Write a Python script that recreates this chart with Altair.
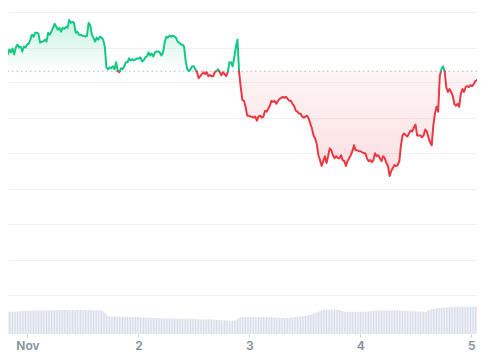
import altair as alt
import pandas as pd

# ---- data ----
start_time = "2023-10-31 19:23"
step = "21min"

price = [
    3.00, 2.95, 3.00, 2.97, 3.01, 2.95, 3.02, 3.05, 3.02, 3.03, 2.98, 3.03,
    3.02, 3.05, 3.06, 3.10, 3.15, 3.13, 3.17, 3.17, 3.16, 3.07, 3.08, 3.08,
    3.10, 3.08, 3.17, 3.15, 3.18, 3.22, 3.26, 3.23, 3.20, 3.22, 3.18, 3.22,
    3.21, 3.23, 3.22, 3.30, 3.27, 3.28, 3.27, 3.17, 3.18, 3.15, 3.15, 3.14,
    3.14, 3.13, 3.14, 3.27, 3.25, 3.15, 3.12, 3.08, 3.12, 3.10, 3.13, 3.12,
    3.10, 3.03, 2.82, 2.80, 2.82, 2.81, 2.83, 2.80, 2.87, 2.78, 2.77, 2.81,
    2.80, 2.83, 2.87, 2.87, 2.91, 2.89, 2.90, 2.89, 2.90, 2.91, 2.91, 2.92,
    2.88, 2.89, 2.92, 2.93, 2.97, 2.94, 2.96, 2.93, 2.97, 2.98, 2.98, 2.97,
    2.94, 2.97, 3.07, 3.13, 3.12, 3.14, 3.13, 3.14, 3.13, 3.12, 3.08, 3.07,
    3.05, 3.05, 3.03, 2.88, 2.80, 2.78, 2.80, 2.83, 2.83, 2.80, 2.77, 2.71,
    2.73, 2.75, 2.77, 2.75, 2.77, 2.73, 2.74, 2.73, 2.73, 2.77, 2.78, 2.80,
    2.77, 2.74, 2.77, 2.75, 2.73, 2.77, 2.87, 2.87, 2.83, 2.92, 3.03, 3.10,
    2.77, 2.62, 2.49, 2.48, 2.42, 2.33, 2.33, 2.32, 2.32, 2.31, 2.32, 2.28,
    2.32, 2.33, 2.31, 2.32, 2.38, 2.37, 2.40, 2.43, 2.48, 2.47, 2.48, 2.45,
    2.48, 2.50, 2.51, 2.52, 2.51, 2.52, 2.50, 2.48, 2.48, 2.45, 2.43, 2.38,
    2.37, 2.35, 2.35, 2.32, 2.31, 2.32, 2.33, 2.30, 2.25, 2.20, 2.13, 2.10,
    2.04, 1.93, 1.88, 1.82, 1.87, 1.92, 1.85, 1.92, 2.00, 1.98, 1.93, 1.90,
    1.92, 1.90, 1.90, 1.93, 1.88, 1.87, 1.82, 1.87, 1.90, 1.93, 1.97, 2.03,
    1.98, 1.98, 1.97, 1.97, 1.96, 1.95, 1.95, 1.90, 1.87, 1.88, 1.86, 1.88,
    1.95, 1.92, 1.93, 1.90, 1.87, 1.92, 1.90, 1.85, 1.82, 1.72, 1.77, 1.80,
    1.83, 1.82, 1.83, 1.87, 2.03, 2.13, 2.15, 2.13, 2.12, 2.15, 2.18, 2.17,
    2.21, 2.24, 2.13, 2.13, 2.13, 2.11, 2.13, 2.19, 2.17, 2.11, 2.06, 2.03,
    2.23, 2.35, 2.42, 2.37, 2.73, 2.80, 2.83, 2.78, 2.62, 2.57, 2.60, 2.57,
    2.53, 2.45, 2.43, 2.45, 2.42, 2.55, 2.60, 2.57, 2.62, 2.63, 2.62, 2.64,
    2.63, 2.65, 2.68, 2.69,
]

volume = [
    2.23, 2.25, 2.24, 2.26, 2.25, 2.27, 2.26, 2.28, 2.30, 2.31, 2.32, 2.33,
    2.34, 2.35, 2.35, 2.36, 2.35, 2.36, 2.37, 2.38, 2.38, 2.39, 2.38, 2.39,
    2.39, 2.40, 2.39, 2.40, 2.41, 2.40, 2.41, 2.40, 2.41, 2.42, 2.41, 2.42,
    2.42, 2.43, 2.42, 2.43, 2.44, 2.45, 2.44, 2.45, 2.44, 2.43, 2.44, 2.43,
    2.42, 2.43, 2.42, 2.41, 2.42, 2.41, 2.40, 2.41, 2.40, 2.39, 2.40, 2.38,
    2.30, 2.15, 1.95, 1.82, 1.78, 1.77, 1.76, 1.77, 1.76, 1.75, 1.76, 1.75,
    1.74, 1.75, 1.74, 1.73, 1.74, 1.73, 1.72, 1.73, 1.72, 1.71, 1.70, 1.69,
    1.67, 1.66, 1.67, 1.66, 1.65, 1.66, 1.65, 1.64, 1.63, 1.62, 1.61, 1.60,
    1.59, 1.58, 1.57, 1.58, 1.57, 1.58, 1.57, 1.56, 1.57, 1.56, 1.55, 1.56,
    1.55, 1.56, 1.55, 1.54, 1.55, 1.54, 1.53, 1.54, 1.53, 1.52, 1.51, 1.50,
    1.49, 1.48, 1.47, 1.48, 1.47, 1.46, 1.47, 1.46, 1.45, 1.44, 1.43, 1.42,
    1.41, 1.40, 1.39, 1.38, 1.37, 1.36, 1.35, 1.34, 1.35, 1.36, 1.40, 1.52,
    1.65, 1.70, 1.72, 1.71, 1.72, 1.71, 1.72, 1.71, 1.72, 1.71, 1.72, 1.71,
    1.72, 1.71, 1.70, 1.71, 1.70, 1.71, 1.70, 1.71, 1.70, 1.69, 1.68, 1.66,
    1.64, 1.63, 1.62, 1.63, 1.62, 1.63, 1.64, 1.65, 1.66, 1.68, 1.70, 1.72,
    1.74, 1.76, 1.78, 1.80, 1.82, 1.84, 1.86, 1.89, 1.93, 1.98, 2.05, 2.12,
    2.20, 2.28, 2.35, 2.40, 2.43, 2.45, 2.46, 2.47, 2.46, 2.47, 2.46, 2.47,
    2.46, 2.45, 2.44, 2.40, 2.34, 2.28, 2.26, 2.25, 2.24, 2.25, 2.24, 2.25,
    2.24, 2.25, 2.26, 2.25, 2.26, 2.25, 2.26, 2.27, 2.28, 2.30, 2.32, 2.35,
    2.37, 2.38, 2.39, 2.38, 2.39, 2.38, 2.37, 2.36, 2.35, 2.36, 2.38, 2.40,
    2.41, 2.40, 2.41, 2.40, 2.39, 2.38, 2.37, 2.36, 2.35, 2.34, 2.33, 2.32,
    2.31, 2.30, 2.29, 2.28, 2.27, 2.26, 2.25, 2.24, 2.30, 2.40, 2.45, 2.50,
    2.52, 2.55, 2.58, 2.60, 2.62, 2.64, 2.66, 2.68, 2.70, 2.71, 2.72, 2.73,
    2.74, 2.75, 2.75, 2.76, 2.75, 2.76, 2.75, 2.76, 2.75, 2.76, 2.75, 2.76,
    2.75, 2.76, 2.75, 2.74,
]

baseline = 2.78
grid_values = [3.38, 3.02, 2.67, 2.31, 1.95, 1.59, 1.23, 0.87, 0.51]
tick_days = [1, 2, 3, 4, 5]
month_label = "Nov"

GREEN = "#16c784"
RED = "#ea3943"

# ---- build tables ----
times = pd.date_range(start_time, periods=len(price), freq=step)

line_rows = []
area_rows = []


def side_of(p):
    return "up" if p >= baseline else "down"


seg = 0
cur = side_of(price[0])
for i, (t, p) in enumerate(zip(times, price)):
    s = side_of(p)
    if i > 0 and s != cur:
        p0 = price[i - 1]
        if p0 != baseline:
            frac = (baseline - p0) / (p - p0)
            tc = times[i - 1] + (times[i] - times[i - 1]) * frac
        else:
            tc = times[i - 1]
        line_rows.append({"t": tc, "p": baseline, "seg": seg, "side": cur})
        area_rows.append({"t": tc, "p": baseline})
        seg += 1
        cur = s
        line_rows.append({"t": tc, "p": baseline, "seg": seg, "side": cur})
    line_rows.append({"t": t, "p": p, "seg": seg, "side": cur})
    area_rows.append({"t": t, "p": p})

line_df = pd.DataFrame(line_rows)
area_df = pd.DataFrame(area_rows).sort_values("t")
area_df["up"] = area_df["p"].clip(lower=baseline)
area_df["down"] = area_df["p"].clip(upper=baseline)
area_df["base"] = baseline

vol_df = pd.DataFrame({"t": times, "v": volume})
base_df = pd.DataFrame({"p": [baseline]})

# ---- scales / axes ----
x_scale = alt.Scale(
    domain=[
        alt.DateTime(year=2023, month=10, date=31, hours=19, minutes=48),
        alt.DateTime(year=2023, month=11, date=5, hours=1, minutes=14),
    ],
    padding=0,
)
x_axis = alt.Axis(
    values=[alt.DateTime(year=2023, month=11, date=d) for d in tick_days],
    labelExpr=f"date(datum.value) == 1 ? '{month_label}' : '' + date(datum.value)",
    labelFlush=False,
    labelOverlap=False,
    grid=False,
    domain=False,
    ticks=True,
    tickSize=3,
    tickColor="#c9ced6",
    labelColor="#858e9e",
    labelFont="Inter",
    labelFontSize=12,
    labelFontWeight=600,
    labelPadding=3,
    title=None,
)
y_scale = alt.Scale(domain=[0.12, 3.42], nice=False, zero=False)

volume_layer = alt.Chart(vol_df).mark_bar(color="#d6dce8", size=1.1).encode(
    x=alt.X("t:T", scale=x_scale, axis=x_axis),
    y=alt.Y("v:Q", scale=alt.Scale(domain=[0, 33.0], nice=False), axis=None),
)

green_area = alt.Chart(area_df).mark_area(
    clip=True,
    color=alt.Gradient(
        gradient="linear",
        stops=[
            alt.GradientStop(color="rgba(22,199,132,0.24)", offset=0),
            alt.GradientStop(color="rgba(22,199,132,0.0)", offset=1),
        ],
        x1=1, x2=1, y1=0, y2=1,
    ),
).encode(
    x=alt.X("t:T", scale=x_scale),
    y=alt.Y(
        "up:Q",
        scale=y_scale,
        axis=alt.Axis(
            values=grid_values, labels=False, ticks=False, domain=False,
            grid=True, gridColor="#eff2f5", gridWidth=1, title=None,
        ),
    ),
    y2="base:Q",
)

red_area = alt.Chart(area_df).mark_area(
    clip=True,
    color=alt.Gradient(
        gradient="linear",
        stops=[
            alt.GradientStop(color="rgba(234,57,67,0.05)", offset=0),
            alt.GradientStop(color="rgba(234,57,67,0.16)", offset=1),
        ],
        x1=1, x2=1, y1=0, y2=1,
    ),
).encode(
    x=alt.X("t:T", scale=x_scale),
    y=alt.Y("base:Q", scale=y_scale, axis=None),
    y2="down:Q",
)

base_rule = alt.Chart(base_df).mark_rule(
    color="#b4b8bf", strokeDash=[1.5, 3], strokeWidth=1
).encode(y=alt.Y("p:Q", scale=y_scale, axis=None))

price_line = alt.Chart(line_df).mark_line(
    clip=True, strokeWidth=2, strokeJoin="round", strokeCap="round"
).encode(
    x=alt.X("t:T", scale=x_scale),
    y=alt.Y("p:Q", scale=y_scale, axis=None),
    color=alt.Color(
        "side:N",
        scale=alt.Scale(domain=["up", "down"], range=[GREEN, RED]),
        legend=None,
    ),
    detail="seg:N",
)

chart = (
    alt.layer(green_area, red_area, volume_layer, base_rule, price_line)
    .resolve_scale(y="independent")
    .properties(
        width=469,
        height=326,
        autosize=alt.AutoSizeParams(type="none"),
        padding={"left": 0, "right": 0, "top": 0, "bottom": 18},
        background="white",
    )
    .configure_view(stroke=None)
)

chart.save("out.html", embed_options={"renderer": "svg", "actions": False})
